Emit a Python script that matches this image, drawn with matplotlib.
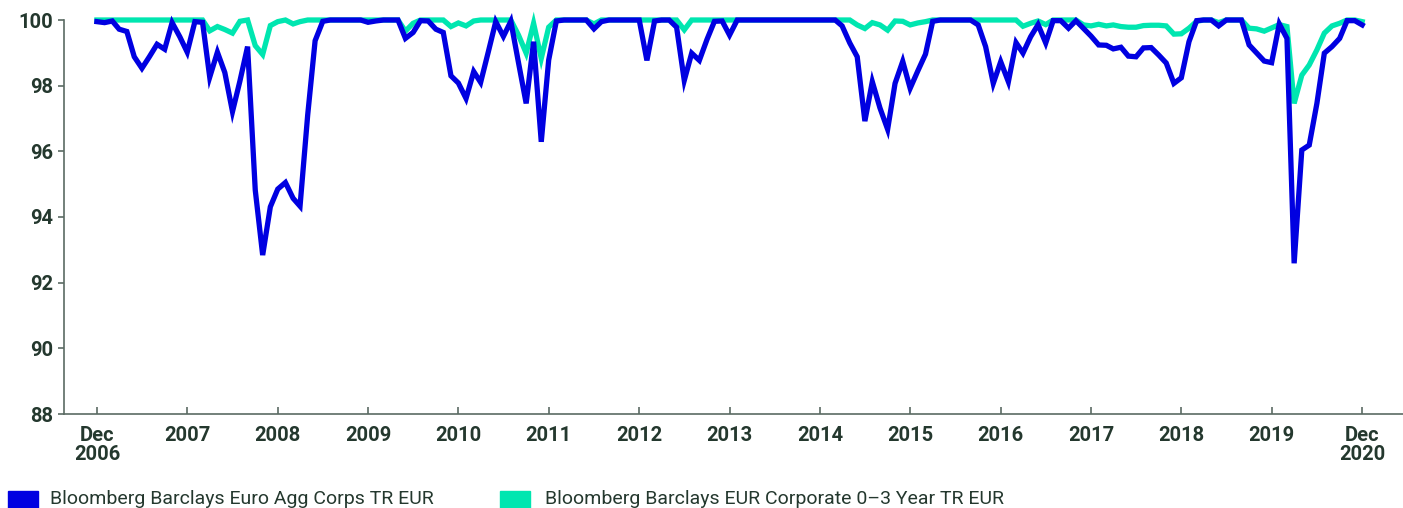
import pandas as pd
import matplotlib.pyplot as plt
from matplotlib.patches import Rectangle

# monthly values, Dec 2006 .. Dec 2020 (169 points)
months = pd.date_range("2006-12-01", "2020-12-01", freq="MS")

euro_agg_corps = [
    99.95, 99.92, 99.97, 99.72, 99.65, 98.88, 98.53, 98.88, 99.26, 99.11,
    99.92, 99.49, 99.02, 99.95, 99.93, 98.26, 99.02, 98.40, 97.21, 98.14,
    99.19, 94.82, 92.84, 94.31, 94.85, 95.05, 94.57, 94.33, 97.11, 99.37,
    99.96, 100.0, 100.0, 100.0, 100.0, 100.0, 99.93, 99.97, 100.0, 100.0,
    100.0, 99.44, 99.62, 99.98, 99.97, 99.72, 99.62, 98.30, 98.08, 97.61,
    98.43, 98.10, 99.03, 99.95, 99.50, 99.96, 98.70, 97.46, 99.34, 96.29,
    98.78, 99.97, 100.0, 100.0, 100.0, 100.0, 99.73, 99.95, 100.0, 100.0,
    100.0, 100.0, 100.0, 98.77, 99.97, 100.0, 100.0, 99.78, 98.16, 98.99,
    98.77, 99.41, 99.96, 99.97, 99.54, 100.0, 100.0, 100.0, 100.0, 100.0,
    100.0, 100.0, 100.0, 100.0, 100.0, 100.0, 100.0, 100.0, 100.0, 99.82,
    99.30, 98.88, 96.92, 98.12, 97.32, 96.67, 98.07, 98.74, 97.92, 98.45,
    98.96, 99.96, 100.0, 100.0, 100.0, 100.0, 100.0, 99.85, 99.19, 98.07,
    98.73, 98.12, 99.31, 98.99, 99.49, 99.86, 99.30, 99.98, 99.98, 99.75,
    99.98, 99.74, 99.51, 99.24, 99.23, 99.12, 99.17, 98.90, 98.88, 99.15,
    99.16, 98.93, 98.69, 98.07, 98.24, 99.34, 99.98, 100.0, 100.0, 99.82,
    100.0, 100.0, 100.0, 99.24, 99.00, 98.75, 98.70, 99.88, 99.44, 92.59,
    96.04, 96.19, 97.46, 98.99, 99.19, 99.44, 99.98, 99.98, 99.85,
]

corp_0_3 = [
    100.0, 100.0, 100.0, 100.0, 100.0, 100.0, 100.0, 100.0, 100.0, 100.0,
    100.0, 100.0, 100.0, 100.0, 100.0, 99.67, 99.80, 99.71, 99.60, 99.96,
    100.0, 99.22, 98.95, 99.83, 99.95, 100.0, 99.88, 99.95, 100.0, 100.0,
    100.0, 100.0, 100.0, 100.0, 100.0, 100.0, 100.0, 100.0, 100.0, 100.0,
    100.0, 99.66, 99.90, 100.0, 100.0, 100.0, 100.0, 99.80, 99.91, 99.82,
    99.97, 100.0, 100.0, 100.0, 100.0, 100.0, 99.54, 98.99, 99.90, 98.83,
    99.78, 100.0, 100.0, 100.0, 100.0, 100.0, 99.88, 100.0, 100.0, 100.0,
    100.0, 100.0, 100.0, 100.0, 100.0, 100.0, 100.0, 100.0, 99.70, 100.0,
    100.0, 100.0, 100.0, 100.0, 100.0, 100.0, 100.0, 100.0, 100.0, 100.0,
    100.0, 100.0, 100.0, 100.0, 100.0, 100.0, 100.0, 100.0, 100.0, 100.0,
    100.0, 99.85, 99.74, 99.92, 99.85, 99.69, 99.97, 99.96, 99.85, 99.91,
    99.95, 100.0, 100.0, 100.0, 100.0, 100.0, 100.0, 100.0, 100.0, 100.0,
    100.0, 100.0, 100.0, 99.81, 99.90, 99.97, 99.86, 100.0, 100.0, 100.0,
    100.0, 99.85, 99.82, 99.87, 99.82, 99.85, 99.80, 99.78, 99.78, 99.83,
    99.84, 99.84, 99.82, 99.57, 99.58, 99.75, 99.96, 100.0, 100.0, 99.92,
    100.0, 100.0, 100.0, 99.75, 99.73, 99.66, 99.76, 99.86, 99.80, 97.46,
    98.32, 98.63, 99.09, 99.60, 99.82, 99.90, 100.0, 100.0, 99.95,
]

tick_years = list(range(2006, 2021))
tick_labels = ["Dec\n2006"] + [str(y) for y in range(2007, 2020)] + ["Dec\n2020"]
y_ticks = [88, 90, 92, 94, 96, 98, 100]

series_names = ["Bloomberg Barclays Euro Agg Corps TR EUR",
                "Bloomberg Barclays EUR Corporate 0\u20133 Year TR EUR"]
blue = "#0000e1"
teal = "#00e6b0"
ink = "#24382e"
axis_col = "#5b6b63"

plt.rcParams['font.family'] = ['Roboto', 'DejaVu Sans']

fig = plt.figure(figsize=(14.03, 5.08), dpi=100)
ax = fig.add_axes([64 / 1403, 94 / 508, 1339 / 1403, 394 / 508])

ax.plot(months, corp_0_3, color=teal, lw=3.8, clip_on=False, zorder=2,
        solid_joinstyle='miter')
ax.plot(months, euro_agg_corps, color=blue, lw=3.8, clip_on=False, zorder=3,
        solid_joinstyle='miter')

ax.set_ylim(88, 100)
ax.set_xlim(pd.Timestamp("2006-12-01") - pd.Timedelta(days=133),
            pd.Timestamp("2020-12-01") + pd.Timedelta(days=165))

ax.set_yticks(y_ticks)
ax.set_yticklabels([str(v) for v in y_ticks])
ax.set_xticks([pd.Timestamp(f"{y}-12-01") for y in tick_years])
ax.set_xticklabels(tick_labels, linespacing=0.98)

for s in ["top", "right"]:
    ax.spines[s].set_visible(False)
for s in ["left", "bottom"]:
    ax.spines[s].set_color(axis_col)
    ax.spines[s].set_linewidth(1.2)

ax.tick_params(axis='y', direction='out', length=4, width=1.2, color=axis_col,
               pad=4, labelsize=14.5, labelcolor=ink)
ax.tick_params(axis='x', direction='in', length=5, width=1.2, color=axis_col,
               pad=8.5, labelsize=14.5, labelcolor=ink)
for lab in ax.get_xticklabels() + ax.get_yticklabels():
    lab.set_fontweight('bold')

# legend along the bottom edge
fig.patches.append(Rectangle((8 / 1403, 0), 30 / 1403, 17 / 508, color=blue,
                             transform=fig.transFigure, figure=fig))
fig.text(50 / 1403, 4 / 508, series_names[0], fontsize=14, color=ink,
         va='baseline', ha='left')
fig.patches.append(Rectangle((500 / 1403, 0), 30 / 1403, 17 / 508, color=teal,
                             transform=fig.transFigure, figure=fig))
fig.text(545 / 1403, 4 / 508, series_names[1], fontsize=14, color=ink,
         va='baseline', ha='left')

fig.savefig("out.png", dpi=100)
